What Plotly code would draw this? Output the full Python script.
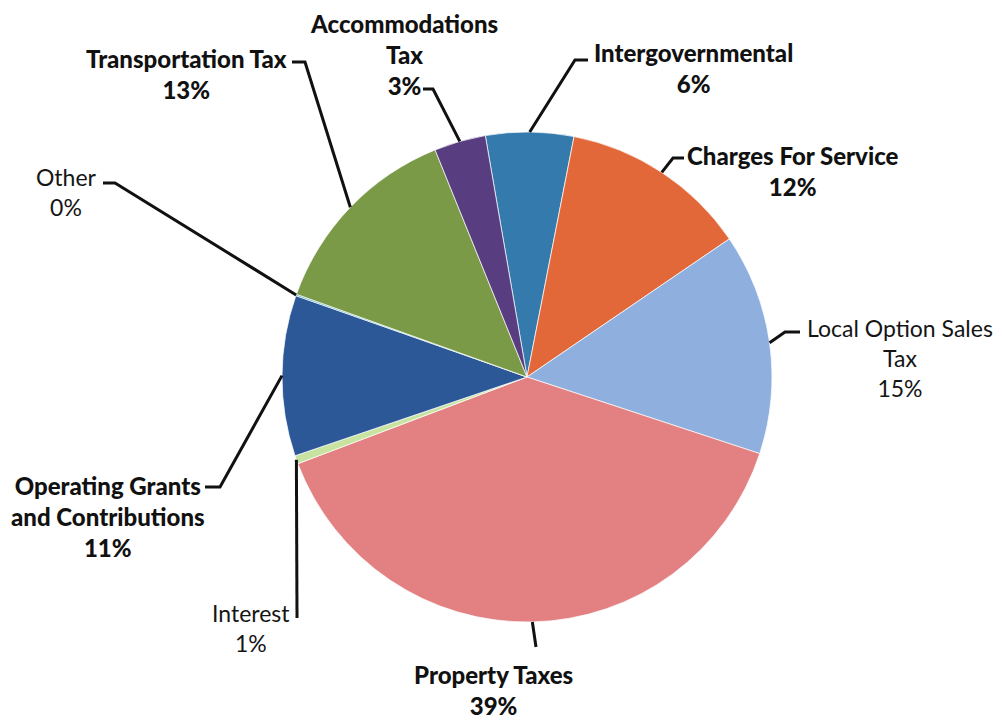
import math
import plotly.graph_objects as go

# Revenue sources, listed clockwise from 12 o'clock
categories = [
    "Intergovernmental",
    "Charges For Service",
    "Local Option Sales Tax",
    "Property Taxes",
    "Interest",
    "Operating Grants and Contributions",
    "Other",
    "Transportation Tax",
    "Accommodations Tax",
]
values = [5.8, 12.4, 14.6, 39.2, 0.55, 10.6, 0.1, 13.4, 3.4]
colors = [
    "#347aac",  # Intergovernmental
    "#e2683a",  # Charges For Service
    "#8fb0de",  # Local Option Sales Tax
    "#e28082",  # Property Taxes
    "#c8e2a0",  # Interest
    "#2c5898",  # Operating Grants and Contributions
    "#4bacc6",  # Other
    "#7a9a48",  # Transportation Tax
    "#583e80",  # Accommodations Tax
]
# Text of each label before its percentage (line breaks as drawn)
label_lines = {
    "Intergovernmental": "Intergovernmental",
    "Charges For Service": "Charges For Service",
    "Local Option Sales Tax": "Local Option Sales<br>Tax",
    "Property Taxes": "Property Taxes",
    "Interest": "Interest",
    "Operating Grants and Contributions": "Operating Grants<br>and Contributions",
    "Other": "Other",
    "Transportation Tax": "Transportation Tax",
    "Accommodations Tax": "Accommodations<br>Tax",
}

W, H = 1002, 720
CX, CY, R = 527, 377, 245          # pie centre and radius in pixels
START_ANGLE = -9.8                  # degrees clockwise from 12 o'clock

BOLD_FONT = "Lato, Arial, sans-serif"
REG_FONT = "Lato, Arial, sans-serif"

# Label placement (pixels): block centre, elbow of the leader, end of leader at text
placement = {
    "Intergovernmental": dict(pos=(693, 68), bold=True, elbow=(575, 60), tail=(588, 60)),
    "Charges For Service": dict(pos=(793, 171), bold=True, elbow=(673, 158), tail=(684, 158)),
    "Local Option Sales Tax": dict(pos=(900, 358), bold=False, elbow=(785, 332), tail=(800, 332)),
    "Property Taxes": dict(pos=(493, 690), bold=True, elbow=(536, 647), tail=(536, 647)),
    "Interest": dict(pos=(251, 628), bold=False, elbow=(297, 618), tail=(297, 618)),
    "Operating Grants and Contributions": dict(pos=(108, 516), bold=True, elbow=(220, 487), tail=(205, 487)),
    "Other": dict(pos=(66, 192), bold=False, elbow=(115, 183), tail=(103, 183)),
    "Transportation Tax": dict(pos=(186, 74), bold=True, elbow=(305, 62), tail=(292, 62)),
    "Accommodations Tax": dict(pos=(404, 55), bold=True, elbow=(433, 89), tail=(423, 89)),
}


def px(x):
    return x / W


def py(y):
    return 1 - y / H


total = sum(values)
shares = [v / total * 100 for v in values]

fig = go.Figure(
    go.Pie(
        labels=categories,
        values=values,
        sort=False,
        direction="clockwise",
        rotation=START_ANGLE,
        marker=dict(colors=colors, line=dict(color="rgba(255,255,255,0.7)", width=1)),
        textinfo="none",
        hoverinfo="label+percent",
        showlegend=False,
        domain=dict(x=[px(CX - R), px(CX + R)], y=[py(CY + R), py(CY - R)]),
    )
)

shapes = []
annotations = []
angle = START_ANGLE
for cat, v, share in zip(categories, values, shares):
    sweep = v / total * 360
    mid = math.radians(angle + sweep / 2)
    angle += sweep
    # leader starts on the rim at the middle of the slice
    ex = CX + R * math.sin(mid)
    ey = CY - R * math.cos(mid)
    p = placement[cat]
    (bx, by), (tx, ty) = p["elbow"], p["tail"]
    shapes.append(dict(
        type="path", xref="paper", yref="paper",
        path=f"M {px(ex)} {py(ey)} L {px(bx)} {py(by)} L {px(tx)} {py(ty)}",
        line=dict(color="#111111", width=3),
    ))
    pct_text = f"{int(share + 0.5)}%"
    text = f"{label_lines[cat]}<br>{pct_text}"
    if p["bold"]:
        font = dict(family=BOLD_FONT, size=24, color="#111111", weight=900)
    else:
        font = dict(family=REG_FONT, size=23, color="#151515")
    annotations.append(dict(
        x=px(p["pos"][0]), y=py(p["pos"][1]), xref="paper", yref="paper",
        text=text, showarrow=False, align="center",
        xanchor="center", yanchor="middle", font=font,
    ))

fig.update_layout(
    width=W, height=H,
    margin=dict(l=0, r=0, t=0, b=0),
    paper_bgcolor="white", plot_bgcolor="white",
    shapes=shapes, annotations=annotations,
)

fig.write_html("out.html")
